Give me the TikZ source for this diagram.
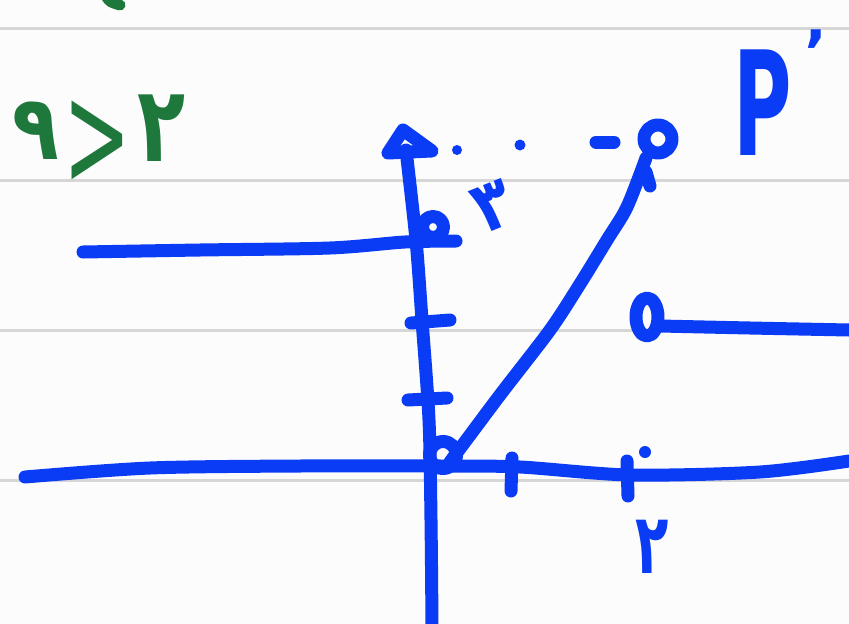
\documentclass[tikz,border=0pt]{standalone}
\usepackage{fontspec}
\newfontfamily\fa[Script=Arabic]{DejaVu Sans Bold}
\newfontfamily\lat{DejaVu Sans}
\newfontfamily\latb{DejaVu Sans Bold}
\definecolor{ink}{HTML}{0A3CF5}
\definecolor{gink}{HTML}{1E783C}
\definecolor{ruling}{HTML}{D6D6D6}
\definecolor{paper}{HTML}{FCFCFD}
\begin{document}
\begin{tikzpicture}[x=1pt,y=-1pt,
  pen/.style={ink, line width=13pt, line cap=round, line join=round},
  gpen/.style={gink, line width=11pt, line cap=round, line join=round},
  ruled/.style={ruling, line width=3pt},
  bluelbl/.style={ink, inner sep=0pt},
  greenlbl/.style={gink, inner sep=0pt}]
\fill[paper] (0,0) rectangle (849,624);
\useasboundingbox (0,0) rectangle (849,624);
% ruled paper
\foreach \yy in {28,180,330,480} \draw[ruled] (0,\yy) -- (849,\yy);
% named points
\coordinate (o) at (443,455);
\coordinate (c3) at (433,227);
\coordinate (ptop) at (658,139);
\coordinate (pr) at (647,317);
% green remnant at top edge
\draw[gpen] (106,-4) .. controls (110,2) .. (120,5);
% green inequality
\node[greenlbl, font=\fa\fontsize{90}{90}\selectfont, xscale=0.85] (g9) at (36,131) {۹};
\node[greenlbl, font=\lat\fontsize{95}{95}\selectfont, yscale=1.55, xscale=0.85] (ggt) at (97,144) {>};
\node[greenlbl, font=\fa\fontsize{105}{105}\selectfont, xscale=0.75] (g2) at (162,128) {۲};
% y axis with arrowhead
\draw[pen] plot[smooth] coordinates {(432,626) (431,520) (429,420) (422,320) (416,240) (406,150)};
\draw[pen] (388,153) -- (403,130) -- (432,151) -- cycle;
\draw[pen] (411,323) -- (450,320);
\draw[pen] (408,400) -- (447,398);
% x axis
\draw[pen] plot[smooth] coordinates {(25,477) (150,468) (300,466) (442,466) (520,467) (630,475) (760,472) (849,461)};
\draw[pen] (512,458) -- (511,491);
\draw[pen] (627,461) -- (628,496);
\fill[ink] (645,452) circle[radius=6pt];
% left ray y=3
\draw[pen] plot[smooth] coordinates {(83,252) (200,250) (330,248) (405,242) (456,241)};
\draw[pen] (c3) circle[radius=10.5pt];
% origin circle and line
\draw[pen] (o) circle[radius=13.5pt];
\draw[pen] plot[smooth] coordinates {(450,462) (500,395) (550,330) (580,284) (607,240) (627,207) (646,158)};
\draw[pen] (646,172) -- (650,186);
\draw[pen] (ptop) circle[radius=14pt];
% dotted guide at top
\fill[ink] (457,150) circle[radius=5pt];
\fill[ink] (520,145) circle[radius=5.5pt];
\draw[pen] (596,142) -- (614,142);
% right ray y=2
\draw[pen] (pr) ellipse[x radius=11pt, y radius=19pt];
\draw[pen] plot[smooth] coordinates {(660,326) (750,328) (849,330)};
% labels
\node[bluelbl, font=\fa\fontsize{72}{72}\selectfont, rotate=22, xscale=0.85] (l3) at (493,206) {۳};
\node[bluelbl, font=\fa\fontsize{84}{84}\selectfont, xscale=0.65] (l2) at (652,547) {۲};
\node[bluelbl, font=\latb\fontsize{145}{145}\selectfont, xscale=0.55] (lp) at (763,103) {P};
\node[bluelbl, font=\latb\fontsize{60}{60}\selectfont] (lq) at (816,52) {’};
\end{tikzpicture}
\end{document}
